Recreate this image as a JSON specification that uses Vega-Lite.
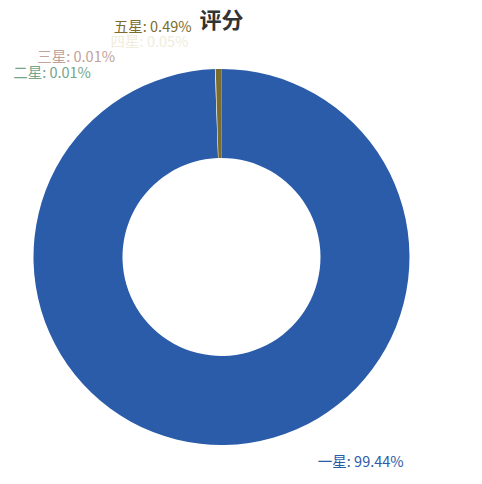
{
  "$schema": "https://vega.github.io/schema/vega-lite/v6.json",
  "width": 443,
  "height": 456,
  "autosize": "none",
  "padding": {"left": 0, "top": 29, "right": 39, "bottom": 0},
  "title": {
    "text": "评分",
    "frame": "group",
    "anchor": "middle",
    "font": "Noto Sans CJK SC",
    "fontSize": 22,
    "fontWeight": "bold",
    "color": "#333333",
    "offset": -13
  },
  "config": {
    "view": {"stroke": null},
    "text": {"font": "Noto Sans CJK SC", "fontSize": 14.5}
  },
  "data": {
    "values": [
      {"序号": 1, "星级": "一星", "占比": 99.44, "标签": "一星: 99.44%"},
      {"序号": 2, "星级": "二星", "占比": 0.01, "标签": "二星: 0.01%"},
      {"序号": 3, "星级": "三星", "占比": 0.01, "标签": "三星: 0.01%"},
      {"序号": 4, "星级": "四星", "占比": 0.05, "标签": "四星: 0.05%"},
      {"序号": 5, "星级": "五星", "占比": 0.49, "标签": "五星: 0.49%"}
    ]
  },
  "encoding": {
    "theta": {"field": "占比", "type": "quantitative", "stack": true},
    "order": {"field": "序号", "type": "quantitative"},
    "color": {
      "field": "星级",
      "type": "nominal",
      "legend": null,
      "scale": {
        "domain": ["一星", "二星", "三星", "四星", "五星"],
        "range": ["#2b5ca9", "#76a58a", "#c1a39a", "#f1eddb", "#7b6c2e"]
      }
    }
  },
  "layer": [
    {"mark": {"type": "arc", "outerRadius": 188, "innerRadius": 99}},
    {
      "mark": {"type": "text", "radius": 188, "align": "left", "baseline": "middle", "dx": 93, "dy": 18},
      "encoding": {"text": {"condition": {"test": "datum['星级'] === '一星'", "field": "标签"}, "value": ""}}
    },
    {
      "mark": {"type": "text", "radius": 188, "align": "right", "baseline": "middle", "dx": -124, "dy": 5},
      "encoding": {"text": {"condition": {"test": "datum['星级'] === '二星'", "field": "标签"}, "value": ""}}
    },
    {
      "mark": {"type": "text", "radius": 188, "align": "right", "baseline": "middle", "dx": -100, "dy": -11},
      "encoding": {"text": {"condition": {"test": "datum['星级'] === '三星'", "field": "标签"}, "value": ""}}
    },
    {
      "mark": {"type": "text", "radius": 188, "align": "right", "baseline": "middle", "dx": -27, "dy": -26},
      "encoding": {"text": {"condition": {"test": "datum['星级'] === '四星'", "field": "标签"}, "value": ""}}
    },
    {
      "mark": {"type": "text", "radius": 188, "align": "right", "baseline": "middle", "dx": -27, "dy": -41},
      "encoding": {"text": {"condition": {"test": "datum['星级'] === '五星'", "field": "标签"}, "value": ""}}
    }
  ]
}
